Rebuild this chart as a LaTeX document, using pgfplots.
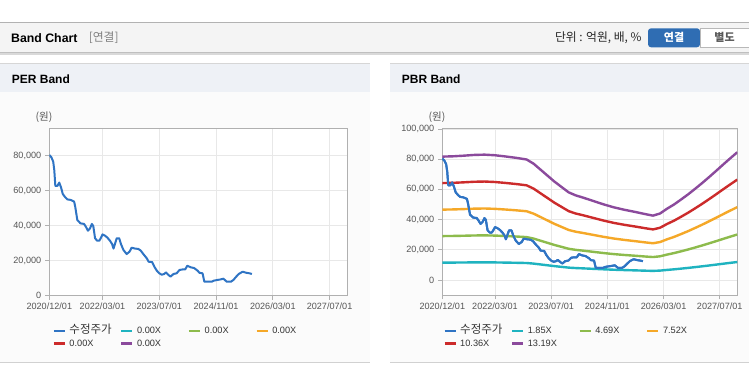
\documentclass[border=0pt]{standalone}
\usepackage{fontspec}
\setmainfont{Liberation Sans}
\newfontfamily\kr{Noto Sans CJK KR}
\usepackage{pgfplots}
\pgfplotsset{compat=1.18}
\usepackage{pgfplotstable}

\definecolor{cPrice}{HTML}{2F74C4}
\definecolor{cCyan}{HTML}{1FB3C0}
\definecolor{cGreen}{HTML}{8DBB4C}
\definecolor{cOrange}{HTML}{F5A828}
\definecolor{cRed}{HTML}{CC2B2B}
\definecolor{cPurple}{HTML}{8B4A9C}
\definecolor{tickc}{HTML}{555555}
\definecolor{framec}{HTML}{B0B0B0}
\definecolor{gridc}{HTML}{E8E8E8}
\definecolor{hdr}{HTML}{F4F4F4}
\definecolor{phdr}{HTML}{EEF1F6}
\definecolor{pbody}{HTML}{FBFBFB}
\definecolor{btn}{HTML}{2F6DB3}

\pgfplotstableread{
m price
0 80400
0.6 79000
1.1 76600
1.4 71800
1.7 62700
2.3 62700
2.8 64600
3.3 61900
3.8 58100
4.5 56200
5.1 55000
6.0 54700
7.0 53700
7.3 50900
7.9 43200
8.8 41300
9.8 41000
10.3 39400
10.9 37100
11.5 38500
12.0 41000
12.4 39800
12.9 32800
13.5 31400
14.1 31400
14.5 32800
15.0 35000
15.7 34300
16.4 33100
17.1 31400
17.7 29500
18.1 26900
18.5 29500
19.0 32800
19.7 32800
20.2 29500
20.9 26100
21.8 23800
22.6 25100
23.2 27400
24.2 26900
25.1 26700
25.8 25700
26.5 23800
27.5 21300
28.0 19400
29.0 19200
29.6 16600
30.3 14300
31.0 12800
31.7 12000
32.4 12400
32.9 13300
33.6 11800
34.2 10900
35.0 12400
35.9 12800
36.7 14700
37.6 15000
38.3 15000
38.9 17100
39.9 16200
40.8 15800
41.8 14300
42.3 13100
43.2 12800
43.7 8000
44.6 8000
45.8 8000
46.4 8600
47.4 9000
48.3 9300
49.1 9700
50.0 8000
51.2 8000
51.9 9000
52.7 10900
53.4 12400
54.5 13700
55.5 13100
56.4 12800
57.1 12400
}\price

\pgfplotstableread{
m c g o r p
0 11459 29050 46580 64170 81700
3 11487 29121 46694 64328 81900
6 11543 29263 46922 64642 82300
9 11614 29441 47207 65034 82800
12 11642 29512 47321 65192 83000
15 11585 29370 47093 64877 82600
18 11473 29086 46637 64249 81800
21 11347 28766 46124 63542 80900
24 11193 28374 45496 62678 79800
26 10800 27379 43900 60479 77000
28 10239 25957 41619 57337 73000
30 9678 24534 39339 54195 69000
32 9117 23112 37058 51054 65000
34 8626 21868 35063 48305 61500
36 8135 20623 33068 45556 58000
38 7855 19912 31927 43985 56000
40 7658 19414 31129 42885 54600
43 7336 18596 29818 41079 52300
46 7013 17779 28507 39272 50000
49 6732 17067 27366 37701 48000
52 6508 16498 26454 36444 46400
55 6312 16001 25656 35345 45000
58 6101 15467 24801 34167 43500
60 5975 15147 24288 33460 42600
62 6171 15645 25086 34559 44000
64 6620 16783 26910 37073 47200
66 7013 17779 28507 39272 50000
68 7476 18952 30388 41864 53300
70 7953 20161 32326 44534 56700
72 8472 21476 34436 47441 60400
74 9005 22828 36602 50425 64200
76 9566 24250 38883 53567 68200
78 10141 25708 41220 56787 72300
80 10730 27201 43615 60086 76500
82 11305 28659 45952 63306 80600
84 11866 30081 48233 66448 84600
}\bands

\pgfplotsset{
  bandaxis/.style={
    scale only axis,
    anchor=south west,
    xmin=0, xmax=84,
    xtick={0,15,31,47,63,79},
    xticklabels={2020/12/01,2022/03/01,2023/07/01,2024/11/01,2026/03/01,2027/07/01},
    grid=major,
    major grid style={gridc, line width=0.8pt},
    axis line style={framec, line width=1pt},
    tick style={framec, line width=0.8pt},
    tick align=outside,
    major tick length=4pt,
    xtick pos=left, ytick pos=left,
    ticklabel style={font=\fontsize{9.1}{10}\selectfont, text=tickc},
    /pgf/number format/assume math mode=true,
    scaled y ticks=false,
    yticklabel style={/pgf/number format/fixed, /pgf/number format/1000 sep={,}, xshift=-0.5pt},
    axis background/.style={fill=white},
    legend columns=4,
    legend cell align=left,
    legend style={draw=none, fill=none, inner sep=0pt, anchor=north west,
        nodes={inner sep=0pt, text width=50.6pt, align=left, text height=9pt, text depth=3pt, font=\fontsize{9.2}{10}\selectfont, text=black!80},
        /tikz/every odd column/.style={column sep=3.4pt},
        /tikz/every even column/.style={column sep=0pt},
        row sep=0.6pt},
    legend image code/.code={\draw[##1, line width=2.6pt] (0pt,0pt) -- (11pt,0pt);},
    every axis plot/.append style={line width=2pt, line join=round},
  },
}

\begin{document}
\begin{tikzpicture}
\fill[white] (0,0) rectangle (749pt,364pt);
\path[use as bounding box] (0,0) rectangle (749pt,364pt);
% header bar
\fill[hdr] (0,311.3pt) rectangle (749pt,341.7pt);
\draw[black!15, line width=1.5pt] (0,310.2pt) -- (749pt,310.2pt);
\draw[black!25, line width=0.8pt] (0,311.3pt) -- (749pt,311.3pt);
\draw[black!30, line width=1.2pt] (0,341.7pt) -- (749pt,341.7pt);
\node[anchor=west, inner sep=0pt, font=\bfseries\fontsize{12.3}{14}\selectfont] at (11pt,325.9pt) {Band Chart};
\node[anchor=west, inner sep=0pt, text=black!50, font=\kr\fontsize{11.8}{13}\selectfont] at (88.7pt,325.9pt) {[연결]};
\node[anchor=east, inner sep=0pt, text=black!85, font=\kr\fontsize{11.8}{13}\selectfont] at (641.7pt,325.9pt) {단위 : 억원, 배, \%};
\fill[btn, rounded corners=3pt] (648pt,316.7pt) rectangle (700pt,335.7pt);
\draw[black!28, fill=white] (700pt,316.7pt) rectangle (749.5pt,335.7pt);
\node[inner sep=0pt, text=white, font=\kr\bfseries\fontsize{11}{12}\selectfont] at (674pt,326.2pt) {연결};
\node[inner sep=0pt, text=black!65, font=\kr\bfseries\fontsize{11}{12}\selectfont] at (724.5pt,326.2pt) {별도};
% panels
\foreach \xa/\xb in {0/370,390/749.5}{
  \fill[pbody] (\xa pt,1.5pt) rectangle (\xb pt,300pt);
  \fill[phdr] (\xa pt,271.5pt) rectangle (\xb pt,300pt);
  \draw[black!16, line width=1pt] (\xa pt,300pt) -- (\xb pt,300pt);
  \draw[black!18, line width=1.2pt] (\xa pt,1.2pt) -- (\xb pt,1.2pt);
}
\node[anchor=west, inner sep=0pt, font=\bfseries\fontsize{12}{14}\selectfont] at (11.7pt,284.7pt) {PER Band};
\node[anchor=west, inner sep=0pt, font=\bfseries\fontsize{12}{14}\selectfont] at (401.7pt,284.7pt) {PBR Band};
\node[inner sep=0pt, text=tickc, font=\kr\fontsize{10.5}{12}\selectfont] at (44pt,246.7pt) {(원)};
\node[inner sep=0pt, text=tickc, font=\kr\fontsize{10.5}{12}\selectfont] at (437pt,246.7pt) {(원)};

% PER
\begin{axis}[bandaxis, at={(49.3pt,68.3pt)}, width=298pt, height=167.4pt,
  ymin=0, ymax=95600, ytick={0,20000,40000,60000,80000},
  legend style={at={(0.01,-0.1732)}}]
\addplot[cPrice] table[x=m, y=price] {\price};
\addlegendentry{{\kr\fontsize{11.5}{12}\selectfont 수정주가}}
\addlegendimage{cCyan}\addlegendentry{0.00X}
\addlegendimage{cGreen}\addlegendentry{0.00X}
\addlegendimage{cOrange}\addlegendentry{0.00X}
\addlegendimage{cRed}\addlegendentry{0.00X}
\addlegendimage{cPurple}\addlegendentry{0.00X}
\end{axis}

% PBR
\begin{axis}[bandaxis, at={(442.3pt,69pt)}, width=295pt, height=166pt,
  ymin=-10000, ymax=100000, ytick={0,20000,40000,60000,80000,100000},
  legend style={at={(0.0024,-0.179)}}]
\addplot[cPrice] table[x=m, y=price] {\price};
\addlegendentry{{\kr\fontsize{11.5}{12}\selectfont 수정주가}}
\addplot[cCyan, line width=2.4pt] table[x=m, y=c] {\bands};
\addlegendentry{1.85X}
\addplot[cGreen, line width=2.4pt] table[x=m, y=g] {\bands};
\addlegendentry{4.69X}
\addplot[cOrange, line width=2.4pt] table[x=m, y=o] {\bands};
\addlegendentry{7.52X}
\addplot[cRed, line width=2.4pt] table[x=m, y=r] {\bands};
\addlegendentry{10.36X}
\addplot[cPurple, line width=2.4pt] table[x=m, y=p] {\bands};
\addlegendentry{13.19X}
\addplot[cPrice, forget plot] table[x=m, y=price] {\price};
\end{axis}
\end{tikzpicture}
\end{document}
